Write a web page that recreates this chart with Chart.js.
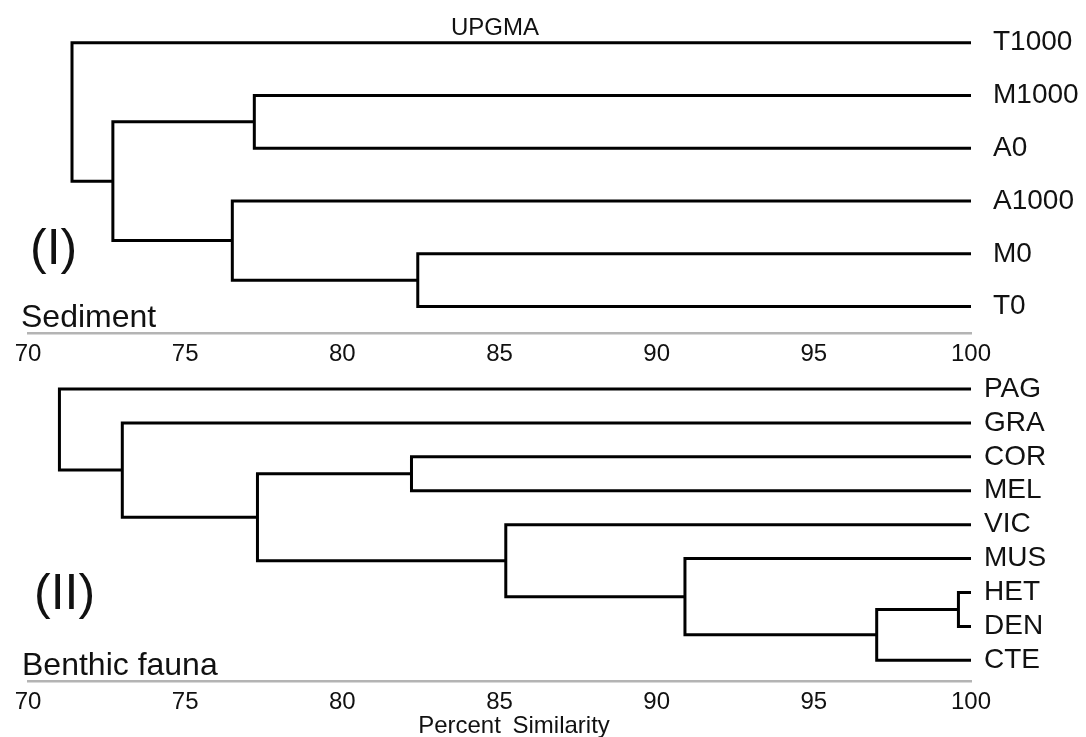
<!DOCTYPE html>
<html>
<head>
<meta charset="utf-8">
<script src="https://cdn.jsdelivr.net/npm/chart.js"></script>
<style>
  body { margin: 0; background: #fff; }
  #page { position: relative; width: 1086px; height: 737px; overflow: hidden;
          font-family: "Liberation Sans", Arial, sans-serif; color: #111; }
  canvas { position: absolute; left: 0; }
  .lbl { position: absolute; white-space: nowrap; line-height: 1; }
</style>
</head>
<body>
<div id="page">
  <canvas id="sediment" width="1086" height="375" style="top:0"></canvas>
  <canvas id="fauna" width="1086" height="377" style="top:360px"></canvas>

  <div class="lbl" style="left:495px; top:15px; font-size:24px; transform:translateX(-50%)">UPGMA</div>
  <div class="lbl" style="left:30px; top:222px; font-size:50px">(I)</div>
  <div class="lbl" style="left:21px; top:300px; font-size:32px">Sediment</div>
  <div class="lbl" style="left:34px; top:567px; font-size:50px">(II)</div>
  <div class="lbl" style="left:22px; top:648px; font-size:32px">Benthic fauna</div>
  <div class="lbl" style="left:514px; top:713px; font-size:24px; word-spacing:5px; transform:translateX(-50%)">Percent Similarity</div>
</div>

<script>
// x axis ticks (percent similarity)
const simTicks = [70, 75, 80, 85, 90, 95, 100];

// (I) sediment - leaf order top to bottom, joins (leaf name or earlier join index), join level
const sedimentLeaves = ['T1000', 'M1000', 'A0', 'A1000', 'M0', 'T0'];
const sedimentPairs = [['M0', 'T0'], ['M1000', 'A0'], ['A1000', 0], [1, 2], ['T1000', 3]];
const sedimentLevels = [82.4, 77.2, 76.5, 72.7, 71.4];

// (II) benthic fauna
const faunaLeaves = ['PAG', 'GRA', 'COR', 'MEL', 'VIC', 'MUS', 'HET', 'DEN', 'CTE'];
const faunaPairs = [['HET', 'DEN'], [0, 'CTE'], ['MUS', 1], ['VIC', 2], ['COR', 'MEL'], [4, 3], ['GRA', 5], ['PAG', 6]];
const faunaLevels = [99.6, 97.0, 90.9, 85.2, 82.2, 77.3, 73.0, 71.0];

Chart.defaults.font.family = '"Liberation Sans", Arial, sans-serif';
Chart.defaults.color = '#111';

// each join becomes one bracket: child A -> level -> level -> child B
function brackets(leaves, pairs, levels) {
  const nodes = [];
  const pos = (ref) => typeof ref === 'string'
    ? { x: simTicks[simTicks.length - 1], y: leaves.indexOf(ref) }
    : nodes[ref];
  return pairs.map((pair, i) => {
    const a = pos(pair[0]);
    const b = pos(pair[1]);
    const s = levels[i];
    nodes[i] = { x: s, y: (a.y + b.y) / 2 };
    return [
      { x: a.x, y: a.y },
      { x: s, y: a.y },
      { x: s, y: b.y },
      { x: b.x, y: b.y },
    ];
  });
}

function drawTree(id, leaves, pairs, levels, yMin, yMax, padding, leafPad) {
  const datasets = brackets(leaves, pairs, levels).map((pts) => ({
    data: pts,
    showLine: true,
    borderColor: '#000',
    borderWidth: 3,
    borderJoinStyle: 'miter',
    pointRadius: 0,
    fill: false,
  }));

  new Chart(document.getElementById(id), {
    type: 'scatter',
    data: { datasets: datasets },
    options: {
      responsive: false,
      animation: false,
      layout: { padding: padding },
      plugins: {
        legend: { display: false },
        tooltip: { enabled: false },
      },
      scales: {
        x: {
          type: 'linear',
          min: simTicks[0],
          max: simTicks[simTicks.length - 1],
          afterBuildTicks: (axis) => { axis.ticks = simTicks.map((v) => ({ value: v })); },
          afterFit: (axis) => { axis.height = 40; },
          grid: { display: false, drawTicks: false },
          border: { display: true, color: '#b4b4b4', width: 2.5 },
          ticks: { font: { size: 24 }, padding: 7, maxRotation: 0, color: '#111' },
        },
        y: {
          type: 'linear',
          position: 'right',
          reverse: true,
          min: yMin,
          max: yMax,
          afterBuildTicks: (axis) => { axis.ticks = leaves.map((_, i) => ({ value: i })); },
          afterFit: (axis) => { axis.width = 115; axis.paddingTop = 0; axis.paddingBottom = 0; },
          grid: { display: false, drawTicks: false },
          border: { display: false },
          ticks: {
            font: { size: 28 },
            padding: leafPad,
            color: '#111',
            callback: (v) => leaves[v],
          },
        },
      },
    },
  });
}

drawTree('sediment', sedimentLeaves, sedimentPairs, sedimentLevels, -0.6, 5.5,
  { left: 28, right: 0, top: 11, bottom: 2 }, 22);
drawTree('fauna', faunaLeaves, faunaPairs, faunaLevels, -0.5, 8.61,
  { left: 28, right: 0, top: 12, bottom: 16 }, 13);
</script>
</body>
</html>
